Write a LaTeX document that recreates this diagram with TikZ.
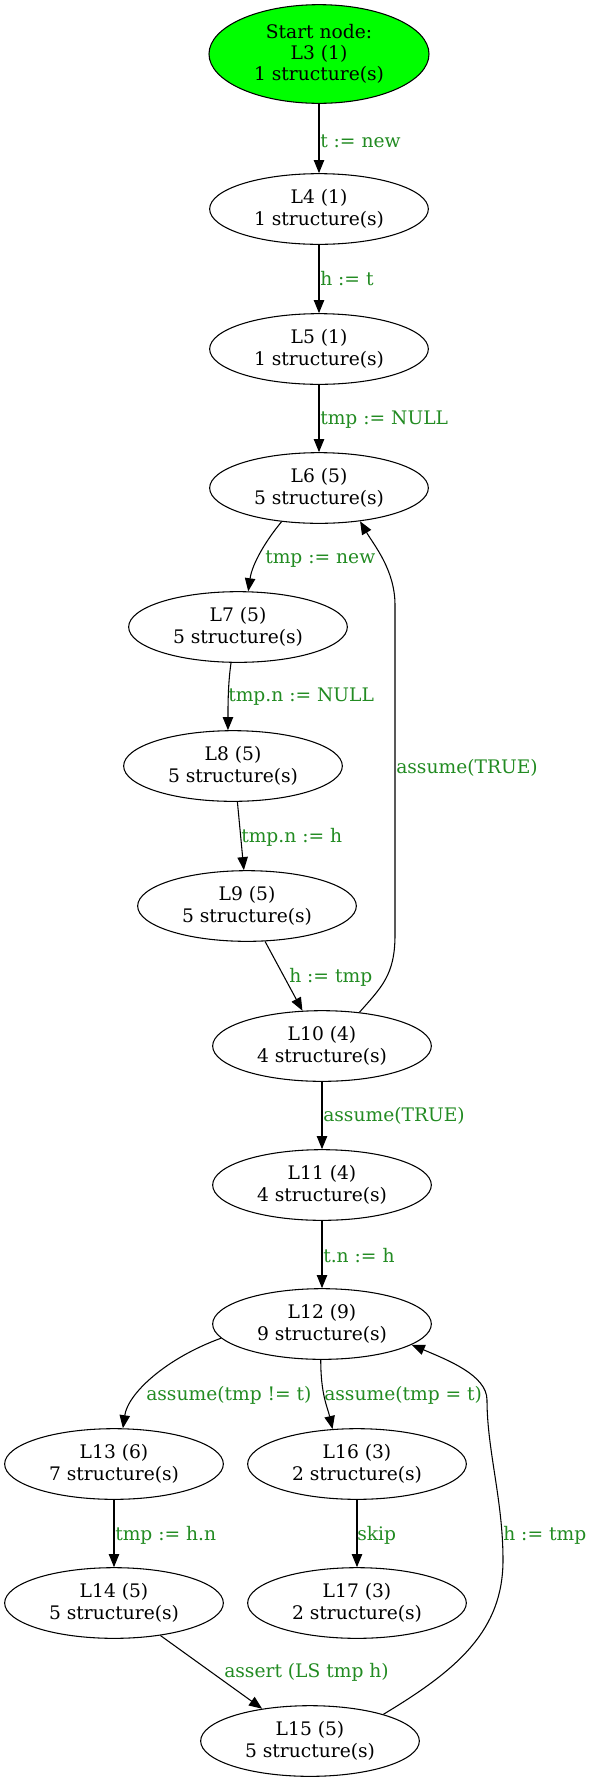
\documentclass[tikz,border=0pt]{standalone}
\usepackage{fontspec}
\setmainfont{DejaVu Serif}
\usetikzlibrary{shapes.geometric,arrows.meta}
\definecolor{lblgreen}{RGB}{34,139,34}
\definecolor{startgreen}{RGB}{0,255,0}

\begin{document}
\begin{tikzpicture}[x=0.75pt,y=-0.75pt,
  font=\fontsize{14}{16}\selectfont,
  loc/.style={draw, ellipse, line width=0.8pt, align=center, inner sep=0pt,
    minimum width=164pt, minimum height=53pt},
  startloc/.style={loc, fill=startgreen, minimum width=165pt, minimum height=74pt},
  lbl/.style={text=lblgreen, anchor=west, inner sep=0pt},
  edge/.style={line width=0.8pt, -{Triangle[length=9.8pt,width=7.8pt]}}]
\useasboundingbox (0,0) rectangle (593,1786);

%locations
\node[startloc] (l3) at (319,54) {Start node:\\L3 (1)\\1 structure(s)};
\node[loc] (l4) at (319,209) {L4 (1)\\1 structure(s)};
\node[loc] (l5) at (319,349) {L5 (1)\\1 structure(s)};
\node[loc] (l6) at (319,488) {L6 (5)\\5 structure(s)};
\node[loc] (l7) at (238,627) {L7 (5)\\5 structure(s)};
\node[loc] (l8) at (233,766) {L8 (5)\\5 structure(s)};
\node[loc] (l9) at (247,906) {L9 (5)\\5 structure(s)};
\node[loc] (l10) at (322,1046) {L10 (4)\\4 structure(s)};
\node[loc] (l11) at (322,1185) {L11 (4)\\4 structure(s)};
\node[loc] (l12) at (322,1324) {L12 (9)\\9 structure(s)};
\node[loc] (l13) at (114,1464) {L13 (6)\\7 structure(s)};
\node[loc] (l16) at (357,1464) {L16 (3)\\2 structure(s)};
\node[loc] (l14) at (114,1603) {L14 (5)\\5 structure(s)};
\node[loc] (l17) at (357,1603) {L17 (3)\\2 structure(s)};
\node[loc] (l15) at (310,1741) {L15 (5)\\5 structure(s)};

%transitions
\draw[edge] (l3) -- (l4);
\draw[edge] (l4) -- (l5);
\draw[edge] (l5) -- (l6);
\draw[edge] (l6.222) .. controls +(-15,18) and +(4,-28) .. (l7.74);
\draw[edge] (l7.259) .. controls +(-3,20) and +(0,-25) .. (l8.98);
\draw[edge] (l8.277) -- (l9.95);
\draw[edge] (l9.297) -- (l10.119);
\draw[edge] (l10.42) .. controls +(22,-25) and +(0,40) .. (395,935) -- (395,605)
  .. controls +(0,-35) and +(14,24) .. (l6.-39);
\draw[edge] (l10) -- (l11);
\draw[edge] (l11) -- (l12);
\draw[edge] (l12.188) .. controls +(-55,20) and +(5,-35) .. (l13.76);
\draw[edge] (l12.268) .. controls +(0,35) and +(-5,-22) .. (l16.125);
\draw[edge] (l13) -- (l14);
\draw[edge] (l16) -- (l17);
\draw[edge] (l14.325) -- (l15.146);
\draw[edge] (l15.20) .. controls +(75,-45) and +(0,70) .. (503,1560)
  .. controls +(0,-60) and +(0,50) .. (487,1400)
  .. controls +(0,-25) and +(35,15) .. (l12.347);

%labels
\node[lbl] (t1) at (320,141) {t := new};
\node[lbl] (t2) at (320,279) {h := t};
\node[lbl] (t3) at (320,420) {tmp := NULL};
\node[lbl] (t4) at (265,559) {tmp := new};
\node[lbl] (t5) at (228,697) {tmp.n := NULL};
\node[lbl] (t6) at (241,837) {tmp.n := h};
\node[lbl] (t7) at (289,977) {h := tmp};
\node[lbl] (t8) at (396,768) {assume(TRUE)};
\node[lbl] (t9) at (323,1116) {assume(TRUE)};
\node[lbl] (t10) at (323,1256) {t.n := h};
\node[lbl] (t11) at (146,1395) {assume(tmp != t)};
\node[lbl] (t12) at (324,1395) {assume(tmp = t)};
\node[lbl] (t13) at (115,1535) {tmp := h.n};
\node[lbl] (t14) at (357,1535) {skip};
\node[lbl] (t15) at (503,1535) {h := tmp};
\node[lbl] (t16) at (224,1672) {assert (LS tmp h)};
\end{tikzpicture}
\end{document}
